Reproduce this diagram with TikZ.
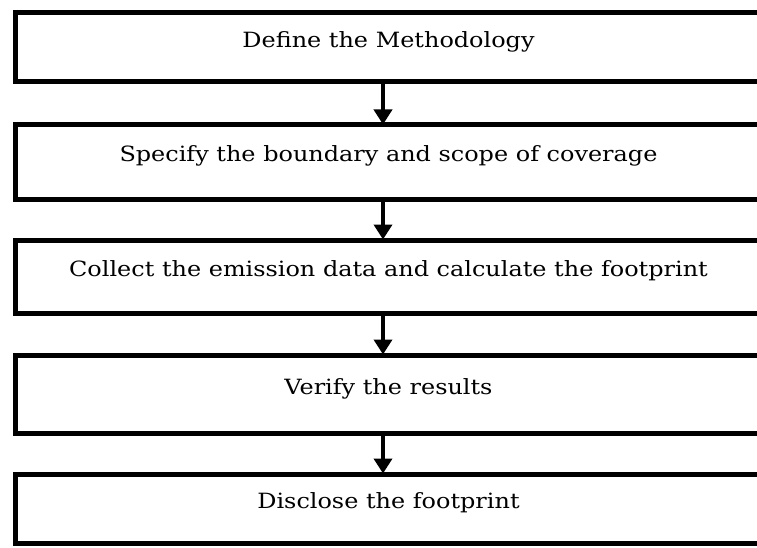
\documentclass[tikz,border=0pt]{standalone}
\usepackage{fontspec}
\setmainfont{DejaVu Serif}[FakeStretch=1.14]
\usetikzlibrary{arrows.meta, positioning}

\begin{document}
\begin{tikzpicture}[
    x=1pt, y=1pt,
    >={Triangle[length=15pt,width=18pt]},
    font=\fontsize{21}{24}\selectfont,
    stepbox/.style={draw, line width=5pt, minimum width=747pt, minimum height=72pt,
                    inner sep=0pt, text height=12pt, text depth=12pt, align=center},
    arr/.style={->, line width=4.5pt, shorten >=-2pt}
]
\useasboundingbox (0,0) rectangle (757,-548);
\clip (0,0) rectangle (757,-548);

% ================= STEPS =================
\node[stepbox, minimum height=69pt] (define)   at (388.5,-47.5)  {Define the Methodology};
\node[stepbox, minimum height=74pt] (boundary) at (388.5,-162)   {Specify the boundary and scope of coverage};
\node[stepbox, minimum height=73pt] (collect)  at (388.5,-276.5) {Collect the emission data and calculate the footprint};
\node[stepbox, minimum height=78pt] (verify)   at (388.5,-394)   {Verify the results};
\node[stepbox, minimum height=69pt] (disclose) at (388.5,-508.5) {Disclose the footprint};

% ================= ARROWS =================
\draw[arr] (define.south -| 383,0)   -- (boundary.north -| 383,0);
\draw[arr] (boundary.south -| 383,0) -- (collect.north -| 383,0);
\draw[arr] (collect.south -| 383,0)  -- (verify.north -| 383,0);
\draw[arr] (verify.south -| 383,0)   -- (disclose.north -| 383,0);

\end{tikzpicture}
\end{document}
